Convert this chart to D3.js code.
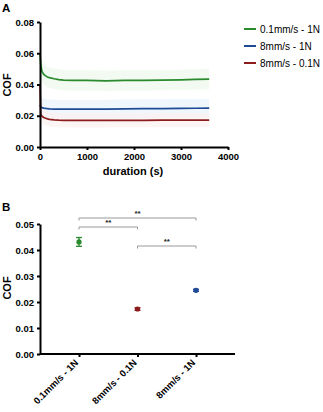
<!DOCTYPE html>
<html>
<head>
<meta charset="utf-8">
<script src="https://cdn.jsdelivr.net/npm/d3@7"></script>
<style>
  body { margin: 0; background: #fff; }
  svg { font-family: "Liberation Sans", Arial, sans-serif; }
  .axis path, .axis line { stroke: #000; stroke-width: 2; }
  .axis text { font-weight: bold; font-size: 9.5px; fill: #000; }
</style>
</head>
<body>
<div id="container"></div>
<script>
/* DATA */
const seriesNames = ["0.1mm/s - 1N", "8mm/s - 1N", "8mm/s - 0.1N"]
const seriesColors = ["#2a8a2e", "#1f4a96", "#8c1c1c"]
const bandColors = ["#eef8ec", "#eaf4fc", "#fcf0f0"]

// panel A: mean COF over time
const timeS = [0, 15, 40, 80, 120, 160, 200, 300, 400, 500, 700, 1000, 1400, 1800, 2200, 2600, 3000, 3300, 3600]
const cofGreen = [0.060, 0.053, 0.0485, 0.0465, 0.0455, 0.0448, 0.0444, 0.0437, 0.0431, 0.0428, 0.0427, 0.0426, 0.0423, 0.0426, 0.0427, 0.0428, 0.0430, 0.0433, 0.0434]
const cofBlue = [0.027, 0.0258, 0.0252, 0.0249, 0.0247, 0.0245, 0.0244, 0.0243, 0.0242, 0.0242, 0.0242, 0.0243, 0.0243, 0.0244, 0.0245, 0.0246, 0.0247, 0.0248, 0.0249]
const cofRed = [0.040, 0.021, 0.0198, 0.0189, 0.0184, 0.0180, 0.0177, 0.0174, 0.0172, 0.0171, 0.0170, 0.0170, 0.0170, 0.0171, 0.0171, 0.0172, 0.0172, 0.0172, 0.0172]
const cofSd = [0.0065, 0.006, 0.0045]
const xTicksA = [0, 1000, 2000, 3000, 4000]
const yTicksA = [0, 0.02, 0.04, 0.06, 0.08]

// panel B: mean COF with error
const groupsB = ["0.1mm/s - 1N", "8mm/s - 0.1N", "8mm/s - 1N"]
const meanB = [0.0431, 0.0173, 0.0245]
const errB = [0.0017, 0.0005, 0.0004]
const colorB = ["#2a8a2e", "#8c1c1c", "#1f4a96"]
const yTicksB = [0, 0.01, 0.02, 0.03, 0.04, 0.05]
const brackets = [["0.1mm/s - 1N", "8mm/s - 1N", 218], ["0.1mm/s - 1N", "8mm/s - 0.1N", 227], ["8mm/s - 0.1N", "8mm/s - 1N", 246]]

const width = 323
const height = 412

const svg = d3.select("#container").append("svg")
  .attr("width", width)
  .attr("height", height)

/* PANEL A */
const xA = d3.scaleLinear().domain([0, 4000]).range([40, 228])
const yA = d3.scaleLinear().domain([0, 0.08]).range([147, 22])

const seriesA = [cofGreen, cofBlue, cofRed]

// shaded bands
seriesA.forEach((vals, i) => {
  const area = d3.area()
    .x((d, j) => xA(timeS[j]))
    .y0(d => yA(d - cofSd[i]))
    .y1(d => yA(d + cofSd[i]))
  svg.append("path")
    .datum(vals)
    .attr("d", area)
    .attr("fill", bandColors[i])
    .attr("opacity", 0.75)
})

seriesA.forEach((vals, i) => {
  const line = d3.line()
    .x((d, j) => xA(timeS[j]))
    .y(d => yA(d))
  svg.append("path")
    .datum(vals)
    .attr("d", line)
    .attr("fill", "none")
    .attr("stroke", seriesColors[i])
    .attr("stroke-width", 1.7)
})

svg.append("g")
  .attr("class", "axis")
  .attr("transform", `translate(0,${yA(0)})`)
  .call(d3.axisBottom(xA).tickValues(xTicksA).tickFormat(d3.format("d")).tickSize(3).tickSizeOuter(0))
svg.append("g")
  .attr("class", "axis")
  .attr("transform", `translate(${xA(0)},0)`)
  .call(d3.axisLeft(yA).tickValues(yTicksA).tickFormat(d3.format(".2f")).tickSize(3).tickSizeOuter(0))

svg.append("text").attr("x", 133).attr("y", 175).attr("text-anchor", "middle")
  .attr("font-weight", "bold").attr("font-size", 11).text("duration (s)")
svg.append("text").attr("transform", "translate(11,85) rotate(-90)").attr("text-anchor", "middle")
  .attr("font-weight", "bold").attr("font-size", 11).text("COF")
svg.append("text").attr("x", 2).attr("y", 12).attr("font-weight", "bold").attr("font-size", 11.5).text("A")

// legend
const legend = svg.append("g")
seriesNames.forEach((name, i) => {
  const y = 29 + i * 17
  legend.append("line").attr("x1", 244).attr("x2", 256).attr("y1", y).attr("y2", y)
    .attr("stroke", seriesColors[i]).attr("stroke-width", 2)
  legend.append("text").attr("x", 260).attr("y", y + 3.5).attr("font-size", 10).text(name)
})

/* PANEL B */
const xB = d3.scalePoint().domain(groupsB).range([79, 196])
const yB = d3.scaleLinear().domain([0, 0.05]).range([354, 224])

svg.append("g")
  .attr("class", "axis axisB")
  .attr("transform", `translate(0,${yB(0)})`)
  .call(d3.axisBottom(xB).tickSize(3).tickSizeOuter(0))
  .call(g => g.select(".domain").attr("d", `M40,0H235`))
  .selectAll("text")
  .attr("text-anchor", "end")
  .attr("font-size", 10)
  .attr("transform", "translate(-3,7) rotate(-45)")
  .attr("dy", "0.35em")
  .attr("y", 0)
svg.append("g")
  .attr("class", "axis")
  .attr("transform", `translate(40,0)`)
  .call(d3.axisLeft(yB).tickValues(yTicksB).tickFormat(d3.format(".2f")).tickSize(3).tickSizeOuter(0))

svg.append("text").attr("transform", "translate(11,288) rotate(-90)").attr("text-anchor", "middle")
  .attr("font-weight", "bold").attr("font-size", 11).text("COF")
svg.append("text").attr("x", 2).attr("y", 211).attr("font-weight", "bold").attr("font-size", 11.5).text("B")

// error bars and points
groupsB.forEach((g, i) => {
  const x = xB(g)
  const e = svg.append("g").attr("stroke", colorB[i]).attr("stroke-width", 1.3)
  e.append("line").attr("x1", x).attr("x2", x).attr("y1", yB(meanB[i] - errB[i])).attr("y2", yB(meanB[i] + errB[i]))
  e.append("line").attr("x1", x - 3).attr("x2", x + 3).attr("y1", yB(meanB[i] - errB[i])).attr("y2", yB(meanB[i] - errB[i]))
  e.append("line").attr("x1", x - 3).attr("x2", x + 3).attr("y1", yB(meanB[i] + errB[i])).attr("y2", yB(meanB[i] + errB[i]))
  svg.append("circle").attr("cx", x).attr("cy", yB(meanB[i])).attr("r", 2.6).attr("fill", colorB[i])
})

// significance brackets
brackets.forEach(([a, b, y]) => {
  const x1 = xB(a), x2 = xB(b)
  svg.append("path")
    .attr("d", `M${x1},${y + 2.5}V${y}H${x2}V${y + 2.5}`)
    .attr("fill", "none").attr("stroke", "#999").attr("stroke-width", 1)
  svg.append("text").attr("x", (x1 + x2) / 2).attr("y", y - 2).attr("text-anchor", "middle")
    .attr("font-size", 8).attr("font-weight", "bold").attr("fill", "#222").text("**")
})
</script>
</body>
</html>
